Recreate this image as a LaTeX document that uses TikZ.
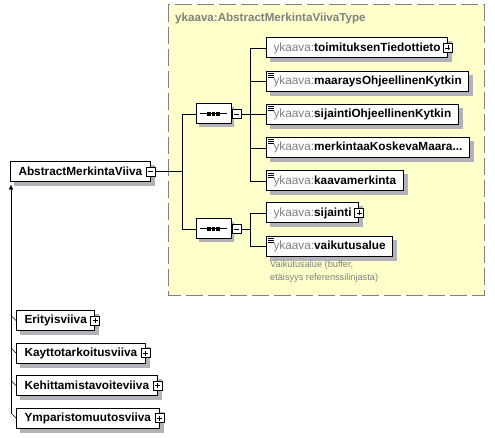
\documentclass[tikz,border=0pt]{standalone}
\usepackage{fontspec}
\setmainfont{Liberation Sans}
\usepackage{tikz}
\usetikzlibrary{arrows.meta,shapes.misc}
\definecolor{typeyellow}{RGB}{255,255,204}
\definecolor{nsgray}{RGB}{128,128,128}
\definecolor{shadecol}{RGB}{178,178,184}
\pgfdeclarelayer{back}
\pgfdeclarelayer{shade}
\pgfsetlayers{back,shade,main}
\newcommand{\ykname}[1]{{\color{nsgray}ykaava:}\textbf{#1}}
\tikzset{
    x=1pt,
    y=-1pt,
    element/.style = {
        draw,
        shape=rectangle,
        fill=white,
        anchor=west,
        minimum height=20pt,
        inner xsep=7pt,
        inner ysep=0pt,
        line width=1pt,
        font=\fontsize{11.8}{13}\selectfont
    },
    docelement/.style = {
        element,
        path picture={
            \foreach \dy in {2,4,6}
                \draw[black, line width=0.7pt] ([xshift=1.5pt,yshift=-\dy pt]path picture bounding box.north west) -- ++(6pt,0pt);
        }
    },
    seqshape/.style = {
        shape=chamfered rectangle,
        chamfered rectangle xsep=4pt,
        chamfered rectangle ysep=4pt,
        minimum width=35pt,
        minimum height=20pt,
        inner sep=0pt
    },
    sequence/.style = {
        seqshape,
        draw,
        fill=white,
        line width=1pt,
        path picture={
            \draw[black, line width=1pt] ([xshift=4pt]path picture bounding box.west) -- ([xshift=-4pt]path picture bounding box.east);
            \foreach \dx in {-4.5,0,4.5}
                \fill[black] ([xshift=\dx pt]path picture bounding box.center) +(-1.6pt,-1.6pt) rectangle +(1.6pt,1.6pt);
        }
    },
    collapse/.style = {
        draw,
        shape=rectangle,
        fill=white,
        minimum size=9pt,
        inner sep=0pt,
        line width=0.8pt,
        path picture={
            \draw[black] ([xshift=2pt]path picture bounding box.west) -- ([xshift=-2pt]path picture bounding box.east);
        }
    },
    expand/.style = {
        collapse,
        path picture={
            \draw[black] ([xshift=2pt]path picture bounding box.west) -- ([xshift=-2pt]path picture bounding box.east);
            \draw[black] ([yshift=-2pt]path picture bounding box.north) -- ([yshift=2pt]path picture bounding box.south);
        }
    },
    typebox/.style = {
        draw=nsgray,
        fill=typeyellow,
        line width=1pt,
        dash pattern=on 17pt off 5pt
    },
    typetitle/.style = {
        anchor=west,
        inner sep=0pt,
        text=nsgray,
        font=\fontsize{11.6}{13}\selectfont\bfseries
    },
    note/.style = {
        anchor=north west,
        align=left,
        inner sep=0pt,
        text=nsgray,
        font=\fontsize{9.2}{12.5}\selectfont
    },
    >={Latex[length=5pt,width=4.5pt]},
}

\begin{document}
\begin{tikzpicture}
    \useasboundingbox (0,0) rectangle (495,438);

    % main element
    \node[element, inner xsep=8pt] (abstrakti) at (10,171.5) {\textbf{AbstractMerkintaViiva}\hspace{8pt}};
    \node[collapse] (abstraktiminus) at (abstrakti.east) {};

    \node[sequence] (seq1) at (213.5,114) {};
    \node[collapse, anchor=west] (seq1minus) at (seq1.east) {};
    \node[sequence] (seq2) at (213.5,229) {};
    \node[collapse, anchor=west] (seq2minus) at (seq2.east) {};

    % first sequence
    \node[element] (tiedot) at (266,48) {\ykname{toimituksenTiedottieto}\hspace{9pt}};
    \node[expand] (tiedotplus) at (tiedot.east) {};
    \node[docelement] (maarays) at (266,81.25) {\ykname{maaraysOhjeellinenKytkin}};
    \node[docelement] (sijohj) at (266,114.5) {\ykname{sijaintiOhjeellinenKytkin}};
    \node[docelement] (merkinta) at (266,147.75) {\ykname{merkintaaKoskevaMaara...}};
    \node[docelement] (kaava) at (266,181) {\ykname{kaavamerkinta}};

    % second sequence
    \node[element] (sijainti) at (266,213) {\ykname{sijainti}\hspace{8pt}};
    \node[expand] (sijaintiplus) at (sijainti.east) {};
    \node[docelement] (vaikutus) at (266,246.5) {\ykname{vaikutusalue}};
    \node[note] (vaikutusnote) at (270,261) {Vaikutusalue (buffer,\\etäisyys referenssilinjasta)};

    % subtypes
    \node[element, inner xsep=8pt] (erity) at (16,320.5) {\textbf{Erityisviiva}\hspace{9pt}};
    \node[expand] (erityplus) at (erity.east) {};
    \node[element, inner xsep=8pt] (kaytto) at (16,353) {\textbf{Kayttotarkoitusviiva}\hspace{7pt}};
    \node[expand] (kayttoplus) at (kaytto.east) {};
    \node[element, inner xsep=8pt] (kehitys) at (16,385.5) {\textbf{Kehittamistavoiteviiva}\hspace{7pt}};
    \node[expand] (kehitysplus) at (kehitys.east) {};
    \node[element, inner xsep=8pt] (ymparisto) at (16,418) {\textbf{Ymparistomuutosviiva}\hspace{7pt}};
    \node[expand] (ymparistoplus) at (ymparisto.east) {};

    % complex type and shadows behind
    \begin{pgfonlayer}{back}
        \path[typebox] (168,5) rectangle (484,295);
    \end{pgfonlayer}
    \begin{pgfonlayer}{shade}
        \foreach \el in {abstrakti,tiedot,maarays,sijohj,merkinta,kaava,sijainti,vaikutus,erity,kaytto,kehitys,ymparisto}
            \fill[shadecol] ([xshift=4pt,yshift=-4pt]\el.north west) rectangle ([xshift=4pt,yshift=-4pt]\el.south east);
        \node[seqshape, fill=shadecol] (seq1shade) at ([xshift=3pt,yshift=-3pt]seq1.center) {};
        \node[seqshape, fill=shadecol] (seq2shade) at ([xshift=3pt,yshift=-3pt]seq2.center) {};
    \end{pgfonlayer}
    \node[typetitle] (typename) at (175,19) {ykaava:AbstractMerkintaViivaType};

    \coordinate (fork0) at (182,171.5);
    \coordinate (fork1) at (250,114);
    \coordinate (fork2) at (250,229);
    \coordinate (inhbottom) at (11,413);

    \path[draw] (abstraktiminus.east) -- (fork0);
    \path[draw] (fork0) |- (seq1.west);
    \path[draw] (fork0) |- (seq2.west);

    \path[draw] (seq1minus.east) -- (fork1);
    \path[draw] (fork1) |- (tiedot.west);
    \path[draw] (fork1) |- (maarays.west);
    \path[draw] (fork1) |- (sijohj.west);
    \path[draw] (fork1) |- (merkinta.west);
    \path[draw] (fork1) |- (kaava.west);

    \path[draw] (seq2minus.east) -- (fork2);
    \path[draw] (fork2) |- (sijainti.west);
    \path[draw] (fork2) |- (vaikutus.west);

    \path[draw, ->] (inhbottom) -- ([xshift=1pt,yshift=-2.5pt]abstrakti.south west);
    \path[draw] ([xshift=-5pt,yshift=5pt]erity.west) -- (erity.west);
    \path[draw] ([xshift=-5pt,yshift=5pt]kaytto.west) -- (kaytto.west);
    \path[draw] ([xshift=-5pt,yshift=5pt]kehitys.west) -- (kehitys.west);
    \path[draw] ([xshift=-5pt,yshift=5pt]ymparisto.west) -- (ymparisto.west);

\end{tikzpicture}
\end{document}
